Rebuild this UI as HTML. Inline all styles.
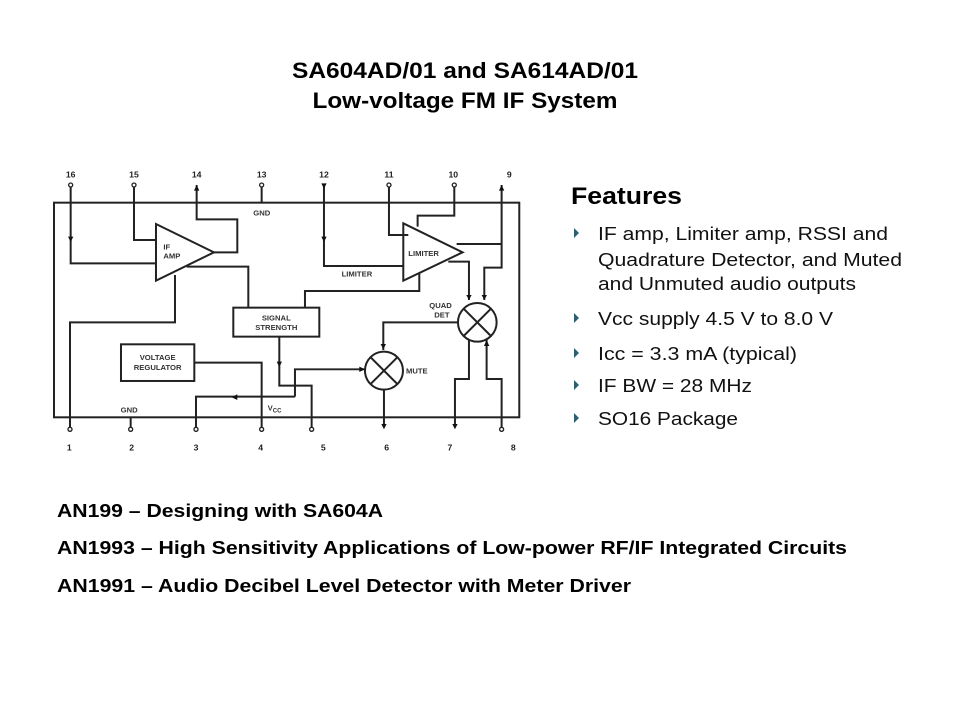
<!DOCTYPE html>
<html><head><meta charset="utf-8"><style>
html,body{margin:0;padding:0;background:#fff;}
svg{display:block;}
</style></head><body>
<svg width="960" height="720" viewBox="0 0 960 720" xmlns="http://www.w3.org/2000/svg" font-family="Liberation Sans, Arial, sans-serif">
<rect width="960" height="720" fill="#fff"/>
<g font-weight="bold" fill="#000">
<text x="465" y="78" font-size="22" text-anchor="middle" textLength="346" lengthAdjust="spacingAndGlyphs">SA604AD/01 and SA614AD/01</text>
<text x="465" y="108" font-size="22" text-anchor="middle" textLength="305" lengthAdjust="spacingAndGlyphs">Low-voltage FM IF System</text>
<text x="571" y="204" font-size="24" textLength="111" lengthAdjust="spacingAndGlyphs">Features</text>
<text x="57" y="517" font-size="18" textLength="326" lengthAdjust="spacingAndGlyphs">AN199 – Designing with SA604A</text>
<text x="57" y="554" font-size="18" textLength="790" lengthAdjust="spacingAndGlyphs">AN1993 – High Sensitivity Applications of Low-power RF/IF Integrated Circuits</text>
<text x="57" y="592" font-size="18" textLength="574" lengthAdjust="spacingAndGlyphs">AN1991 – Audio Decibel Level Detector with Meter Driver</text>
</g>
<g font-size="18" fill="#111">
<text x="598" y="240" textLength="290" lengthAdjust="spacingAndGlyphs">IF amp, Limiter amp, RSSI and</text>
<text x="598" y="266" textLength="304" lengthAdjust="spacingAndGlyphs">Quadrature Detector, and Muted</text>
<text x="598" y="290" textLength="258" lengthAdjust="spacingAndGlyphs">and Unmuted audio outputs</text>
<text x="598" y="325" textLength="235" lengthAdjust="spacingAndGlyphs">Vcc supply 4.5 V to 8.0 V</text>
<text x="598" y="360" textLength="199" lengthAdjust="spacingAndGlyphs">Icc = 3.3 mA (typical)</text>
<text x="598" y="392" textLength="154" lengthAdjust="spacingAndGlyphs">IF BW = 28 MHz</text>
<text x="598" y="425" textLength="140" lengthAdjust="spacingAndGlyphs">SO16 Package</text>
</g>
<g fill="#2e5f6e">
<path d="M574 228l5 5-5 5z"/><path d="M574 313l5 5-5 5z"/><path d="M574 348l5 5-5 5z"/><path d="M574 380l5 5-5 5z"/><path d="M574 413l5 5-5 5z"/>
</g>
<g transform="translate(40,160) scale(0.3333)">
<g fill="none" stroke="#222" stroke-width="6">
<rect x="42" y="128" width="1396" height="644"/>
<path d="M348 192L522 277L348 362Z"/>
<path d="M1090 190L1268 277L1090 362Z"/>
<rect x="580" y="443" width="258" height="87"/>
<rect x="243" y="553" width="220" height="110"/>
<circle cx="1312" cy="487" r="58"/>
<path d="M1271 446L1353 528M1353 446L1271 528"/>
<circle cx="1032" cy="632" r="57"/>
<path d="M992 592L1072 672M1072 592L992 672"/>
<path d="M92 75V310H348"/>
<path d="M282 75V240H348"/>
<path d="M470 75V178H592V277H522"/>
<path d="M665 75V128"/>
<path d="M405 345V487H90V808"/>
<path d="M440 320H625V443"/>
<path d="M795 443V393H1138V340"/>
<path d="M852 75V318H1090"/>
<path d="M1047 75V225H1105"/>
<path d="M1243 75V167H1133V200"/>
<path d="M1385 75V323H1333V420"/>
<path d="M1250 252H1385"/>
<path d="M1225 305H1287V420"/>
<path d="M1255 487H1030V570"/>
<path d="M1287 540V657H1245V800"/>
<path d="M1340 540V657H1385V808"/>
<path d="M718 530V677H815V808"/>
<path d="M765 710V628H975"/>
<path d="M463 608H665V808"/>
<path d="M468 808V710H765"/>
<path d="M1032 690V800"/>
<path d="M272 772V808"/>
</g>
<g fill="#fff" stroke="#222" stroke-width="4">
<circle cx="92" cy="75" r="6"/><circle cx="282" cy="75" r="6"/><circle cx="665" cy="75" r="6"/><circle cx="1047" cy="75" r="6"/><circle cx="1243" cy="75" r="6"/>
<circle cx="90" cy="808" r="6"/><circle cx="272" cy="808" r="6"/><circle cx="468" cy="808" r="6"/><circle cx="665" cy="808" r="6"/><circle cx="815" cy="808" r="6"/><circle cx="1385" cy="808" r="6"/>
</g>
<g fill="#111">
<path d="M462 92L470 75L478 92Z"/><path d="M1377 92L1385 75L1393 92Z"/><path d="M844 70L860 70L852 86Z"/>
<path d="M84 230H100L92 246Z"/><path d="M844 230H860L852 246Z"/>
<path d="M1279 405H1295L1287 420Z"/><path d="M1325 405H1341L1333 420Z"/>
<path d="M1022 552H1038L1030 568Z"/><path d="M710 605H726L718 621Z"/>
<path d="M958 620L975 628L958 636Z"/><path d="M592 703L575 712L592 720Z"/>
<path d="M1332 558L1340 540L1348 558Z"/>
<path d="M1024 792H1040L1032 808Z"/><path d="M1237 792H1253L1245 808Z"/>
</g>
<g font-size="26" font-weight="bold" fill="#222" text-anchor="middle">
<text x="92" y="52">16</text><text x="282" y="52">15</text><text x="470" y="52">14</text><text x="665" y="52">13</text><text x="852" y="52">12</text><text x="1047" y="52">11</text><text x="1240" y="52">10</text><text x="1408" y="52">9</text>
<text x="88" y="872">1</text><text x="275" y="872">2</text><text x="468" y="872">3</text><text x="662" y="872">4</text><text x="850" y="872">5</text><text x="1040" y="872">6</text><text x="1230" y="872">7</text><text x="1420" y="872">8</text>
</g>
<g font-size="23" font-weight="bold" fill="#333">
<text x="640" y="167">GND</text>
<text x="242" y="757">GND</text>
<text x="683" y="752">V<tspan font-size="18" dy="6">CC</tspan></text>
<text x="905" y="350">LIMITER</text>
<text x="370" y="268">IF</text><text x="370" y="296">AMP</text>
<text x="1105" y="288">LIMITER</text>
<text x="1168" y="444">QUAD</text><text x="1183" y="472">DET</text>
<text x="1098" y="640">MUTE</text>
<text x="709" y="482" text-anchor="middle">SIGNAL</text><text x="709" y="510" text-anchor="middle">STRENGTH</text>
<text x="353" y="600" text-anchor="middle">VOLTAGE</text><text x="353" y="630" text-anchor="middle">REGULATOR</text>
</g>
</g>
</svg>
</body></html>
